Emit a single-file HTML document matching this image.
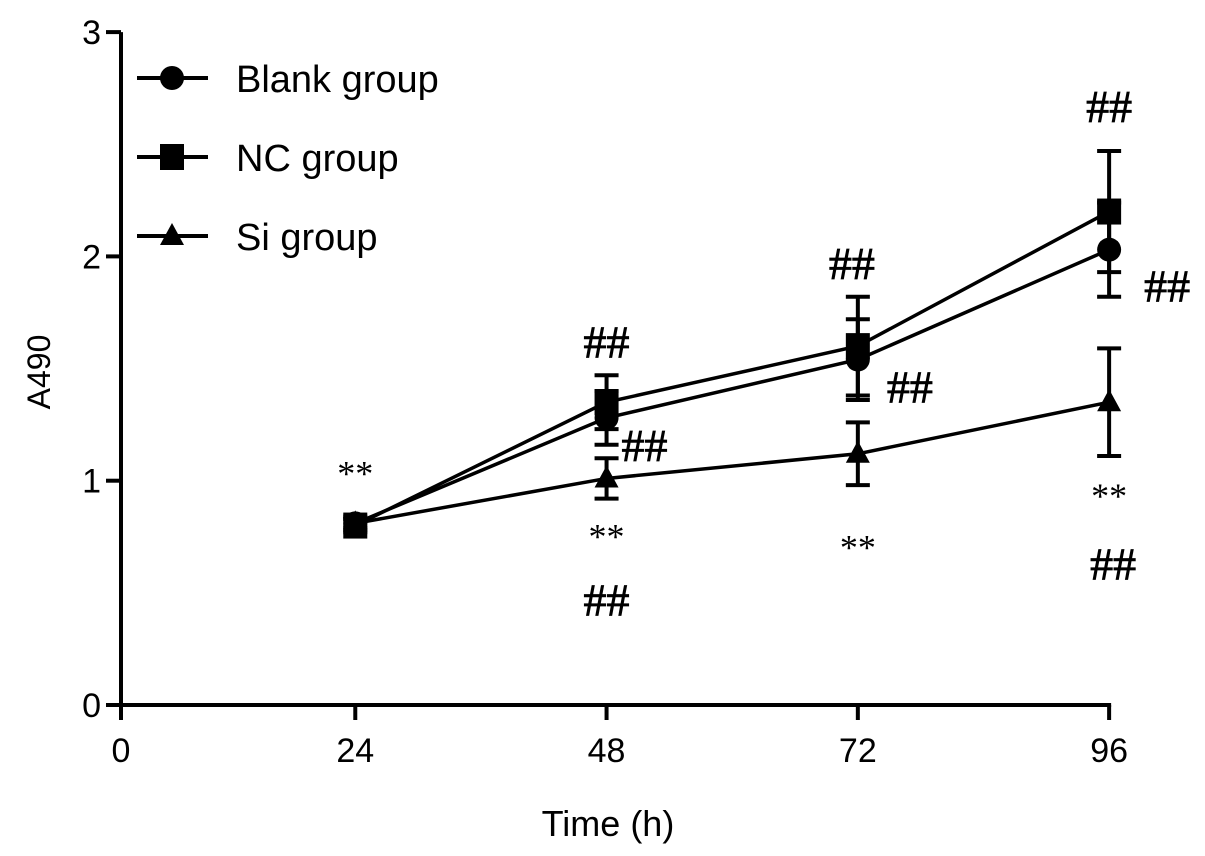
<!DOCTYPE html>
<html><head><meta charset="utf-8"><style>
body{margin:0;background:#fff}
svg{display:block;font-family:"Liberation Sans",Arial,sans-serif}
</style></head><body>
<svg id="chart" width="1205" height="856" viewBox="0 0 1205 856" xmlns="http://www.w3.org/2000/svg">
<g id="axes"></g><g id="series"></g><g id="annot"></g><g id="legend"></g>
</svg>
<script>
const times = [24, 48, 72, 96];
const blank = [0.81, 1.28, 1.54, 2.03];
const blankErr = [0.03, 0.12, 0.18, 0.21];
const nc = [0.80, 1.35, 1.60, 2.20];
const ncErr = [0.03, 0.12, 0.22, 0.27];
const si = [0.81, 1.01, 1.12, 1.35];
const siErr = [0.02, 0.09, 0.14, 0.24];
const yTicks = [0, 1, 2, 3];
const xTicks = [0, 24, 48, 72, 96];
const annotations = [
 {t:24, v:1.05, s:"**"}, {t:48, v:1.62, s:"##"}, {t:48, v:1.16, s:"##", dx:38},
 {t:48, v:0.77, s:"**"}, {t:48, v:0.47, s:"##"}, {t:72, v:1.97, s:"##", dx:-6},
 {t:72, v:1.42, s:"##", dx:52}, {t:72, v:0.72, s:"**"}, {t:96, v:2.67, s:"##"},
 {t:96, v:1.87, s:"##", dx:58}, {t:96, v:0.95, s:"**"}, {t:96, v:0.63, s:"##", dx:4}
];
const NS="http://www.w3.org/2000/svg";
const X = t => 104 + t*10.47;
const Y = v => 705 - v*224.3;
function mk(tag, attrs, parent, text){const e=document.createElementNS(NS,tag);for(const k in attrs)e.setAttribute(k,attrs[k]);if(text!==undefined)e.textContent=text;parent.appendChild(e);return e;}
const axes=document.getElementById('axes');
let e;
e=mk('line',{x1:121,y1:Y(3),x2:121,y2:Y(0)+2,stroke:'#000','stroke-width':4},axes);


e=mk('line',{x1:119,y1:705,x2:X(96)+2,y2:705,stroke:'#000','stroke-width':4},axes);


yTicks.forEach(v=>{
 mk('line',{x1:106,y1:Y(v),x2:121,y2:Y(v),stroke:'#000','stroke-width':4},axes);
 e=mk('text',{x:101,y:Y(v)+12,'text-anchor':'end','font-size':34},axes,String(v));
 
 
});
xTicks.forEach(t=>{
 const x = t===0?121:X(t);
 mk('line',{x1:x,y1:705,x2:x,y2:720,stroke:'#000','stroke-width':4},axes);
 e=mk('text',{x:x,y:762,'text-anchor':'middle','font-size':34},axes,String(t));
 
 
});
e=mk('text',{x:608,y:836,'text-anchor':'middle','font-size':36},axes,'Time (h)');


e=mk('text',{x:0,y:0,'text-anchor':'middle','font-size':32,transform:'translate(50,372) rotate(-90)'},axes,'A490');



const ser=document.getElementById('series');
function marker(kind,x,y,g){
 if(kind==='circle') return mk('circle',{cx:x,cy:y,r:12,fill:'#000'},g);
 if(kind==='square') return mk('rect',{x:x-12,y:y-13,width:24,height:26,fill:'#000'},g);
 return mk('polygon',{points:`${x},${y-13} ${x-12},${y+9} ${x+12},${y+9}`,fill:'#000'},g);
}
function drawSeries(name,vals,errs,kind){
 const g=mk('g',{},ser);
 
 
 const pts=times.map((t,i)=>X(t)+','+Y(vals[i])).join(' ');
 mk('polyline',{points:pts,fill:'none',stroke:'#000','stroke-width':3.5},g);
 times.forEach((t,i)=>{
  const x=X(t),hi=Y(vals[i]+errs[i]),lo=Y(vals[i]-errs[i]);
  mk('line',{x1:x,y1:hi,x2:x,y2:lo,stroke:'#000','stroke-width':4},g);
  mk('line',{x1:x-12,y1:hi,x2:x+12,y2:hi,stroke:'#000','stroke-width':4},g);
  mk('line',{x1:x-12,y1:lo,x2:x+12,y2:lo,stroke:'#000','stroke-width':4},g);
  const m=marker(kind,x,Y(vals[i]),g);
  
  
 });
}
drawSeries('si-group',si,siErr,'triangle');
drawSeries('blank-group',blank,blankErr,'circle');
drawSeries('nc-group',nc,ncErr,'square');

const an=document.getElementById('annot');
annotations.forEach(a=>{
 const isHash=a.s==='##';
 e=mk('text',{x:X(a.t)+(a.dx||0),y:Y(a.v)+16,'text-anchor':'middle','font-size':isHash?46:36,'font-family':'"Liberation Serif",serif',stroke:isHash?'#000':'none','stroke-width':isHash?0.8:0},an,a.s);
 
 
});

const lg=document.getElementById('legend');
const legendItems=[['Blank group','circle',78],['NC group','square',157],['Si group','triangle',236]];
legendItems.forEach(([label,kind,y])=>{
 const g=mk('g',{},lg);
 
 
 mk('line',{x1:137,y1:y,x2:208,y2:y,stroke:'#000','stroke-width':4},g);
 marker(kind,172,y,g);
 mk('text',{x:236,y:y+14,'font-size':38},g,label);
});
</script>
</body></html>
